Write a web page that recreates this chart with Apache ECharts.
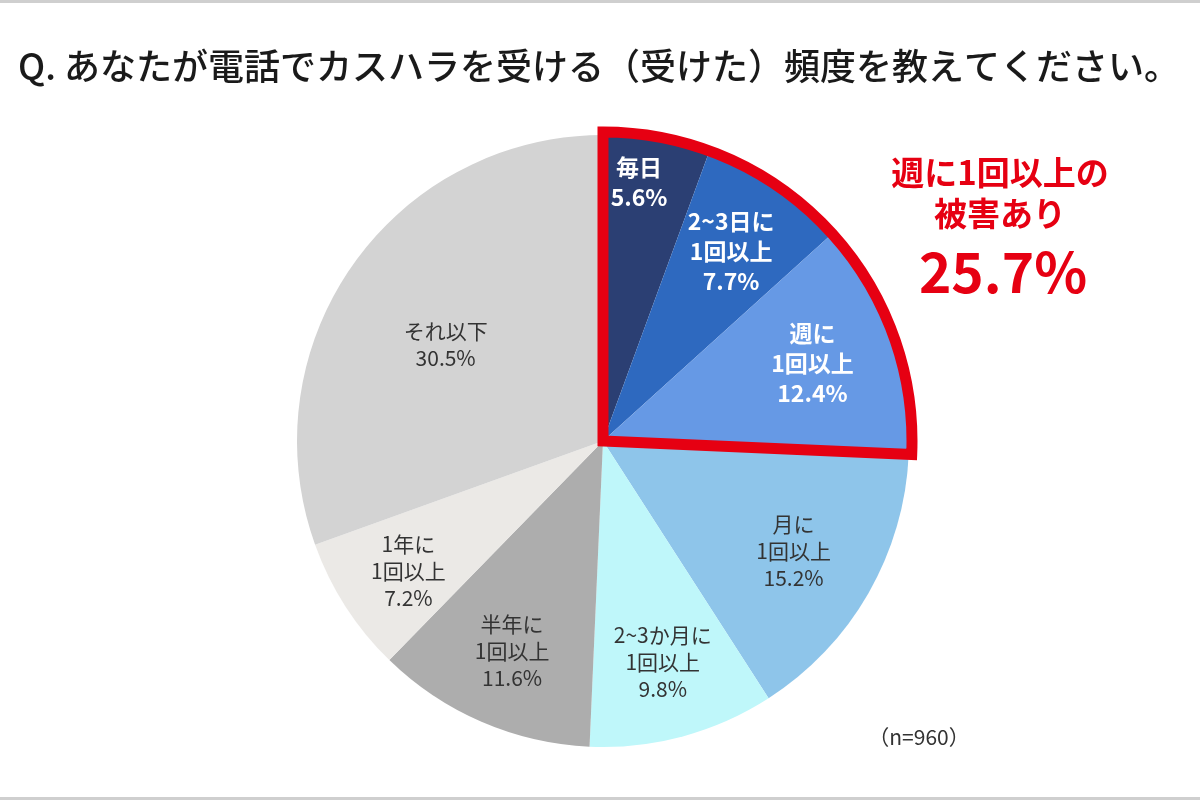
<!DOCTYPE html>
<html>
<head>
<meta charset="utf-8">
<script src="https://cdn.jsdelivr.net/npm/echarts@6/dist/echarts.min.js"></script>
<style>
  html, body { margin: 0; padding: 0; background: #fff; }
  #main { width: 1200px; height: 800px; }
</style>
</head>
<body>
<div id="main"></div>
<script>
var categories = ['毎日', '2~3日に\n1回以上', '週に\n1回以上', '月に\n1回以上', '2~3か月に\n1回以上', '半年に\n1回以上', '1年に\n1回以上', 'それ以下'];
var values = [5.6, 7.7, 12.4, 15.2, 9.8, 11.6, 7.2, 30.5];
var colors = ['#2b3f73', '#2e69bf', '#6699e5', '#8ec5ea', '#bff7fa', '#adadad', '#ebe9e6', '#d3d3d3'];
var weeklyTotal = 25.7;
var sampleSize = 960;

var font = '"Noto Sans CJK JP", "Noto Sans", sans-serif';
var myChart = echarts.init(document.getElementById('main'));

var pieData = categories.map(function (name, i) {
    return { name: name, value: values[i], itemStyle: { color: colors[i] } };
});

var labelData = categories.map(function (name, i) {
    var bold = i < 3;
    return {
        name: name,
        value: values[i],
        label: {
            color: bold ? '#ffffff' : '#333333',
            fontWeight: bold ? 'bold' : 'normal',
            fontSize: bold ? 23 : 21,
            lineHeight: bold ? 30 : 27
        }
    };
});

// small nudges so the labels sit where the original placed them
var labelShift = { 0: [-4, -33], 2: [-6, 0], 3: [-8, -4], 6: [-2, 6], 7: [30, 35] };

option = {
    backgroundColor: '#ffffff',
    graphic: [
        { type: 'rect', shape: { x: 0, y: 0, width: 1200, height: 3 }, style: { fill: '#cfcfcf' } },
        { type: 'rect', shape: { x: 0, y: 797, width: 1200, height: 3 }, style: { fill: '#cfcfcf' } },
        {
            type: 'text', x: 18, y: 66,
            style: { text: 'Q. あなたが電話でカスハラを受ける（受けた）頻度を教えてください。', font: '500 36px ' + font, fill: '#1a1a1a', verticalAlign: 'middle' }
        },
        {
            type: 'text', x: 1000, y: 172,
            style: { text: '週に1回以上の', font: 'bold 33px ' + font, fill: '#e60012', align: 'center', verticalAlign: 'middle' }
        },
        {
            type: 'text', x: 1000, y: 213,
            style: { text: '被害あり', font: 'bold 33px ' + font, fill: '#e60012', align: 'center', verticalAlign: 'middle' }
        },
        {
            type: 'text', x: 1003, y: 272,
            style: { text: weeklyTotal.toFixed(1) + '%', font: 'bold 55px ' + font, fill: '#e60012', align: 'center', verticalAlign: 'middle' }
        },
        {
            type: 'text', x: 919, y: 737,
            style: { text: '（n=' + sampleSize + '）', font: '21px ' + font, fill: '#333333', align: 'center', verticalAlign: 'middle' }
        }
    ],
    series: [
        {
            name: '頻度',
            type: 'pie',
            center: [603, 441],
            radius: [0, 306],
            startAngle: 90,
            clockwise: true,
            silent: true,
            label: { show: false },
            labelLine: { show: false },
            data: pieData
        },
        {
            name: '週に1回以上',
            type: 'pie',
            center: [603, 441],
            radius: [0, 309],
            startAngle: 90,
            clockwise: true,
            silent: true,
            z: 3,
            label: { show: false },
            labelLine: { show: false },
            data: [
                { value: weeklyTotal, itemStyle: { color: 'rgba(0,0,0,0)', borderColor: '#e60012', borderWidth: 11, borderJoin: 'miter' } },
                { value: 100 - weeklyTotal, itemStyle: { color: 'rgba(0,0,0,0)' } }
            ]
        },
        {
            name: 'ラベル',
            type: 'pie',
            center: [603, 441],
            radius: [0, 452],
            startAngle: 90,
            clockwise: true,
            silent: true,
            z: 4,
            itemStyle: { color: 'rgba(0,0,0,0)' },
            label: {
                show: true,
                position: 'inside',
                fontFamily: font,
                formatter: function (p) { return p.name + '\n' + p.value.toFixed(1) + '%'; }
            },
            labelLine: { show: false },
            labelLayout: function (p) {
                var s = labelShift[p.dataIndex];
                return s ? { dx: s[0], dy: s[1] } : {};
            },
            data: labelData
        }
    ]
};

myChart.setOption(option);
</script>
</body>
</html>
